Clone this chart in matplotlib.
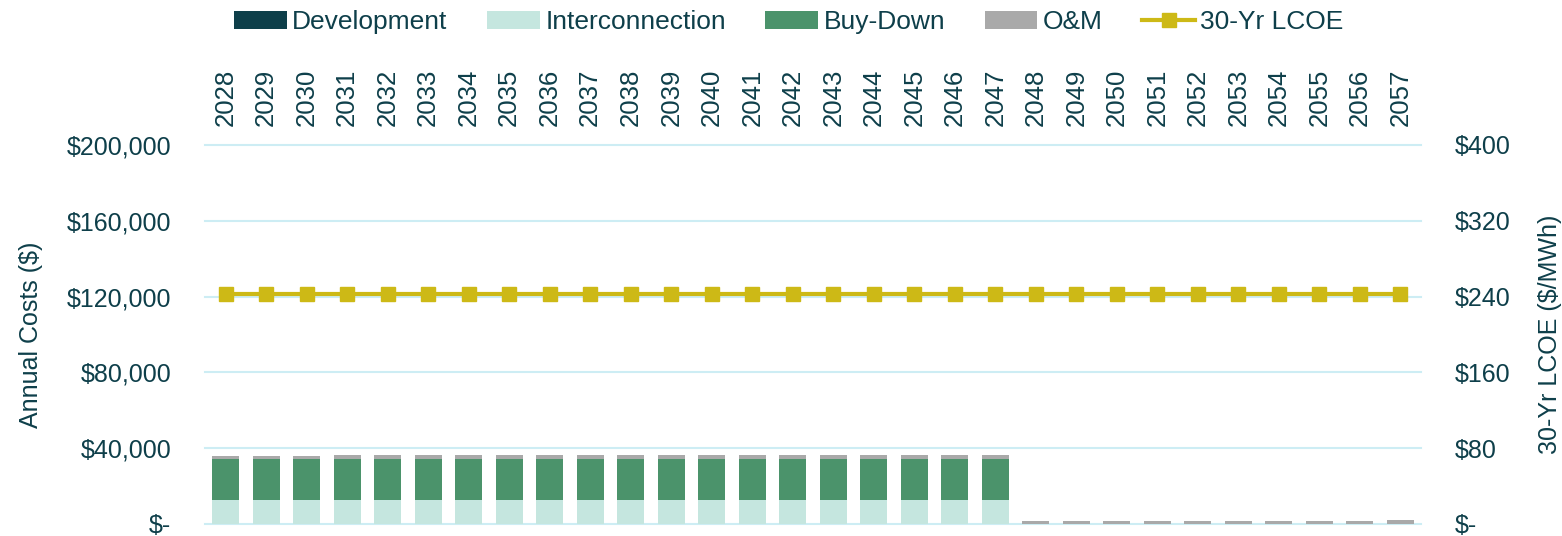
import matplotlib.pyplot as plt
import numpy as np

# Annual cost breakdown per year
years = list(range(2028, 2058))
development = [0] * 30
interconnection = [12700] * 20 + [0] * 10
buy_down = [21600] * 20 + [0] * 10
om = [1800, 1800, 1800, 1850, 1850, 1850, 1900, 1900, 1900, 1950,
      1950, 2000, 2000, 2050, 2050, 2100, 2100, 2150, 2150, 2200,
      1600, 1600, 1650, 1650, 1700, 1700, 1750, 1750, 1800, 1850]
lcoe = [243] * 30

TEXT = '#0E3F4A'
FS = 18
plt.rcParams['font.family'] = ['Liberation Sans', 'DejaVu Sans']
plt.rcParams['text.color'] = TEXT

fig = plt.figure(figsize=(15.62, 5.36), dpi=100)
ax = fig.add_axes([0.131, 0.0224, 0.779, 0.7071])
ax2 = ax.twinx()

x = np.arange(len(years))
w = 0.67
dev = np.array(development)
ic = np.array(interconnection)
bd = np.array(buy_down)
o = np.array(om)

ax.bar(x, dev, w, color='#0E3F4A', label='Development', zorder=3)
ax.bar(x, ic, w, bottom=dev, color='#C5E6DF', label='Interconnection', zorder=3)
ax.bar(x, bd, w, bottom=dev + ic, color='#4B936B', label='Buy-Down', zorder=3)
ax.bar(x, o, w, bottom=dev + ic + bd, color='#A9A9A9', label='O&M', zorder=3)

ax2.plot(x, lcoe, color='#CDB916', lw=3, marker='s', ms=10, label='30-Yr LCOE')

ax.set_xlim(-0.52, len(years) - 0.48)
ax.set_ylim(0, 200000)
ax2.set_ylim(0, 400)
ax.set_yticks(np.arange(0, 200001, 40000))
ax.set_yticklabels(['$-'] + [f'${v:,}' for v in range(40000, 200001, 40000)])
ax2.set_yticks(np.arange(0, 401, 80))
ax2.set_yticklabels(['$-'] + [f'${v}' for v in range(80, 401, 80)])

ax.grid(axis='y', color='#CDEDF4', lw=1.5, zorder=0, clip_on=False)
ax.set_axisbelow(True)
for a in (ax, ax2):
    for s in a.spines.values():
        s.set_visible(False)
    a.tick_params(length=0, labelsize=FS, colors=TEXT)

ax.xaxis.tick_top()
ax.set_xticks(x)
ax.set_xticklabels([str(y) for y in years], rotation=90, fontsize=18.5)
ax.tick_params(axis='x', pad=14)
ax.tick_params(axis='y', pad=24)
ax2.tick_params(axis='y', pad=24)

ax.set_ylabel('Annual Costs ($)', fontsize=FS, color=TEXT, labelpad=17)
ax2.set_ylabel('30-Yr LCOE ($/MWh)', fontsize=FS, color=TEXT, labelpad=20)

h1, l1 = ax.get_legend_handles_labels()
h2, l2 = ax2.get_legend_handles_labels()
fig.legend(h1 + h2, l1 + l2, loc='upper center', bbox_to_anchor=(0.505, 1.025),
           ncol=5, frameon=False, fontsize=19, handlelength=2.0,
           handletextpad=0.2, columnspacing=1.5)

fig.savefig('out.png', dpi=100)
